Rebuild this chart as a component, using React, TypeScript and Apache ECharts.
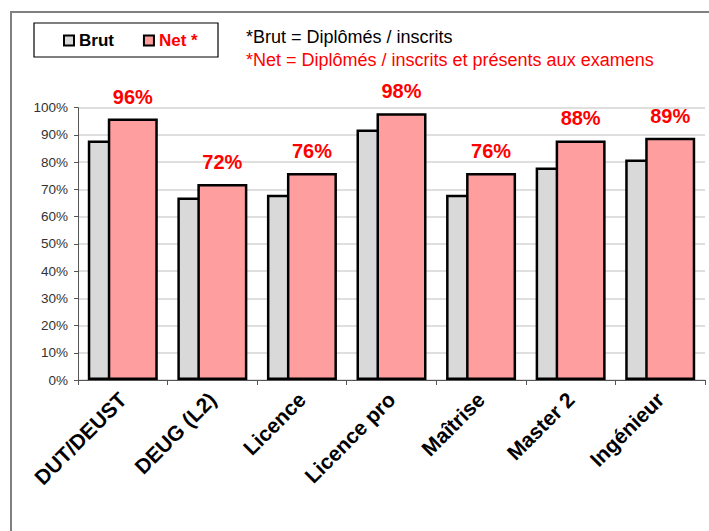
import React, { useEffect, useRef } from "react";
import * as echarts from "echarts";

const categories = ["DUT/DEUST", "DEUG (L2)", "Licence", "Licence pro", "Maîtrise", "Master 2", "Ingénieur"];
const brutValues = [88, 67, 68, 92, 68, 78, 81];
const netValues = [96, 72, 76, 98, 76, 88, 89];
const noteBrut = "*Brut = Diplômés / inscrits";
const noteNet = "*Net = Diplômés / inscrits et présents aux examens";

const FONT = "'Liberation Sans', Arial, sans-serif";

export default function App() {
  const ref = useRef<HTMLDivElement>(null);
  useEffect(() => {
    if (!ref.current) return;
    const chart = echarts.init(ref.current, null, { renderer: "svg" });
    chart.setOption({
      animation: false,
      backgroundColor: "#fff",
      textStyle: { fontFamily: FONT },
      grid: { left: 78, right: 4, top: 107.7, bottom: 151 },
      legend: {
        left: 63,
        top: 32,
        padding: 0,
        itemWidth: 10,
        itemHeight: 10,
        itemGap: 29,
        icon: "rect",
        textStyle: { fontFamily: FONT, fontSize: 17, fontWeight: "bold" },
        data: [
          { name: "Brut", textStyle: { color: "#000" }, itemStyle: { borderColor: "#000", borderWidth: 2 } },
          { name: "Net *", textStyle: { color: "#ff0000" }, itemStyle: { borderColor: "#000", borderWidth: 2 } },
        ],
      },
      graphic: [
        {
          type: "rect",
          shape: { x: 11, y: 12, width: 720, height: 540 },
          style: { fill: "none", stroke: "#808080", lineWidth: 2 },
          silent: true,
          z: -1,
        },
        {
          type: "rect",
          shape: { x: 34, y: 23, width: 184, height: 34 },
          style: { fill: "none", stroke: "#000", lineWidth: 1.2 },
          silent: true,
        },
        {
          type: "text",
          x: 246,
          y: 37,
          style: { text: noteBrut, fill: "#000", font: `18px ${FONT}`, textVerticalAlign: "middle" },
        },
        {
          type: "text",
          x: 246,
          y: 60,
          style: { text: noteNet, fill: "#ff0000", font: `18px ${FONT}`, textVerticalAlign: "middle" },
        },
      ],
      xAxis: {
        type: "category",
        data: categories,
        axisLine: { lineStyle: { color: "#555", width: 1 } },
        axisTick: { show: true, length: 5, lineStyle: { color: "#555" } },
        axisLabel: {
          interval: 0,
          rotate: 45,
          margin: 16,
          color: "#000",
          fontFamily: FONT,
          fontSize: 21,
          fontWeight: "bold",
        },
      },
      yAxis: {
        type: "value",
        min: 0,
        max: 100,
        interval: 10,
        axisLine: { show: true, lineStyle: { color: "#555" } },
        axisTick: { show: true, length: 4, lineStyle: { color: "#555" } },
        axisLabel: { formatter: "{value}%", color: "#333", fontSize: 13.5, fontFamily: FONT, margin: 10 },
        splitLine: { lineStyle: { color: "#d4d4d4", width: 1.5 } },
      },
      series: [
        {
          name: "Brut",
          type: "bar",
          data: brutValues,
          barWidth: 50,
          barGap: "-60%",
          itemStyle: { color: "#d9d9d9", borderColor: "#000", borderWidth: 2.5 },
        },
        {
          name: "Net *",
          type: "bar",
          data: netValues,
          barWidth: 50,
          itemStyle: { color: "#ff9e9e", borderColor: "#000", borderWidth: 2.5 },
          label: {
            show: true,
            position: "top",
            distance: 12,
            formatter: "{c}%",
            color: "#ff0000",
            fontSize: 20,
            fontWeight: "bold",
            fontFamily: FONT,
          },
        },
      ],
    });
    return () => chart.dispose();
  }, []);
  return <div ref={ref} style={{ width: 709, height: 531, position: "absolute", left: 0, top: 0 }} />;
}
